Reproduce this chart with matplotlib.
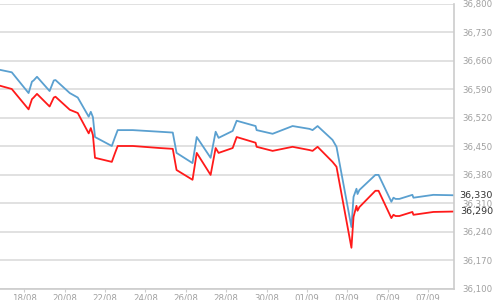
import numpy as np
import pandas as pd
import matplotlib
matplotlib.use("Agg")
import matplotlib.pyplot as plt
import matplotlib.dates as mdates

# timestamps (year assumed) and the two rate series
times = ["08-16 19:00", "08-17 09:00", "08-18 05:00", "08-18 09:00", "08-18 11:00",
         "08-18 15:00", "08-19 06:00", "08-19 11:00", "08-19 13:00", "08-20 06:00",
         "08-20 15:30", "08-21 04:30", "08-21 07:00", "08-21 09:30", "08-21 12:00",
         "08-22 08:00", "08-22 11:30", "08-22 15:00", "08-23 09:00", "08-24 17:00",
         "08-25 08:30", "08-25 13:00", "08-26 08:00", "08-26 13:00", "08-27 05:30",
         "08-27 11:30", "08-27 15:00", "08-28 07:45", "08-28 12:30", "08-29 11:00",
         "08-29 12:15", "08-30 07:15", "08-31 07:00", "09-01 03:15", "09-01 06:45",
         "09-01 12:45", "09-02 06:30", "09-02 11:15", "09-03 05:00", "09-03 07:30",
         "09-03 11:00", "09-03 12:15", "09-03 14:30", "09-04 09:30", "09-04 13:15",
         "09-05 04:30", "09-05 07:00", "09-05 09:30", "09-05 14:00", "09-06 05:30",
         "09-06 06:45", "09-07 06:30", "09-08 06:15"]

sell = [36.638, 36.632, 36.581, 36.609, 36.612, 36.621, 36.586, 36.612, 36.613, 36.581,
        36.570, 36.523, 36.535, 36.522, 36.473, 36.451, 36.471, 36.490, 36.490, 36.486,
        36.484, 36.434, 36.409, 36.473, 36.422, 36.486, 36.471, 36.488, 36.513, 36.500,
        36.490, 36.481, 36.500, 36.493, 36.490, 36.500, 36.466, 36.449, 36.252, 36.326,
        36.346, 36.333, 36.343, 36.380, 36.380, 36.314, 36.324, 36.321, 36.321, 36.331,
        36.324, 36.331, 36.330]

buy = [36.599, 36.591, 36.541, 36.566, 36.570, 36.579, 36.548, 36.570, 36.572, 36.540,
       36.532, 36.482, 36.495, 36.478, 36.422, 36.412, 36.432, 36.451, 36.451, 36.446,
       36.444, 36.392, 36.368, 36.434, 36.380, 36.446, 36.434, 36.446, 36.473, 36.459,
       36.449, 36.439, 36.449, 36.441, 36.439, 36.449, 36.412, 36.400, 36.201, 36.277,
       36.304, 36.292, 36.301, 36.341, 36.341, 36.274, 36.282, 36.279, 36.279, 36.289,
       36.282, 36.289, 36.290]

y_ticks = [36.100, 36.170, 36.240, 36.310, 36.380, 36.450, 36.520, 36.590, 36.660, 36.730, 36.800]

dates = pd.to_datetime(["2015-" + t for t in times])


def fmt(v):
    return f"{v:.3f}".replace(".", ",")


fig = plt.figure(figsize=(5, 3), dpi=100)
ax = fig.add_axes([0, 0.037, 0.908, 0.95])

ax.plot(dates, sell, color="#5aa0d0", lw=1.3)
ax.plot(dates, buy, color="#ff1a1a", lw=1.3)

ax.set_ylim(36.100, 36.800)
ax.set_xlim(dates[0], pd.Timestamp("2015-09-08 07:00"))

# right-hand scale, labels right-aligned near the picture edge
ax.yaxis.tick_right()
ax.set_yticks(y_ticks)
ax.set_yticklabels([fmt(v) for v in y_ticks])
ax.tick_params(axis="y", length=0, pad=28, labelsize=6.2, labelcolor="#a0a0a0")
for lbl in ax.get_yticklabels():
    lbl.set_horizontalalignment("right")
ax.grid(axis="y", color="#dcdcdc", lw=1.2)
ax.set_axisbelow(True)

ax.set_xticks(pd.date_range("2015-08-18", periods=11, freq="2D"))
ax.xaxis.set_major_formatter(mdates.DateFormatter("%d/%m"))
ax.tick_params(axis="x", length=2.5, width=0.8, color="#cccccc", pad=0.5,
               labelsize=6.2, labelcolor="#a0a0a0")

for s in ["top", "left"]:
    ax.spines[s].set_visible(False)
for s in ["bottom", "right"]:
    ax.spines[s].set_color("#cccccc")
    ax.spines[s].set_linewidth(1.2)

# last values on the right
for v in [sell[-1], buy[-1]]:
    ax.annotate(fmt(v), xy=(1, v), xycoords=("axes fraction", "data"),
                xytext=(28, 0), textcoords="offset points", ha="right", va="center",
                fontsize=6.8, color="#333333")

fig.savefig("out.png", dpi=100)
